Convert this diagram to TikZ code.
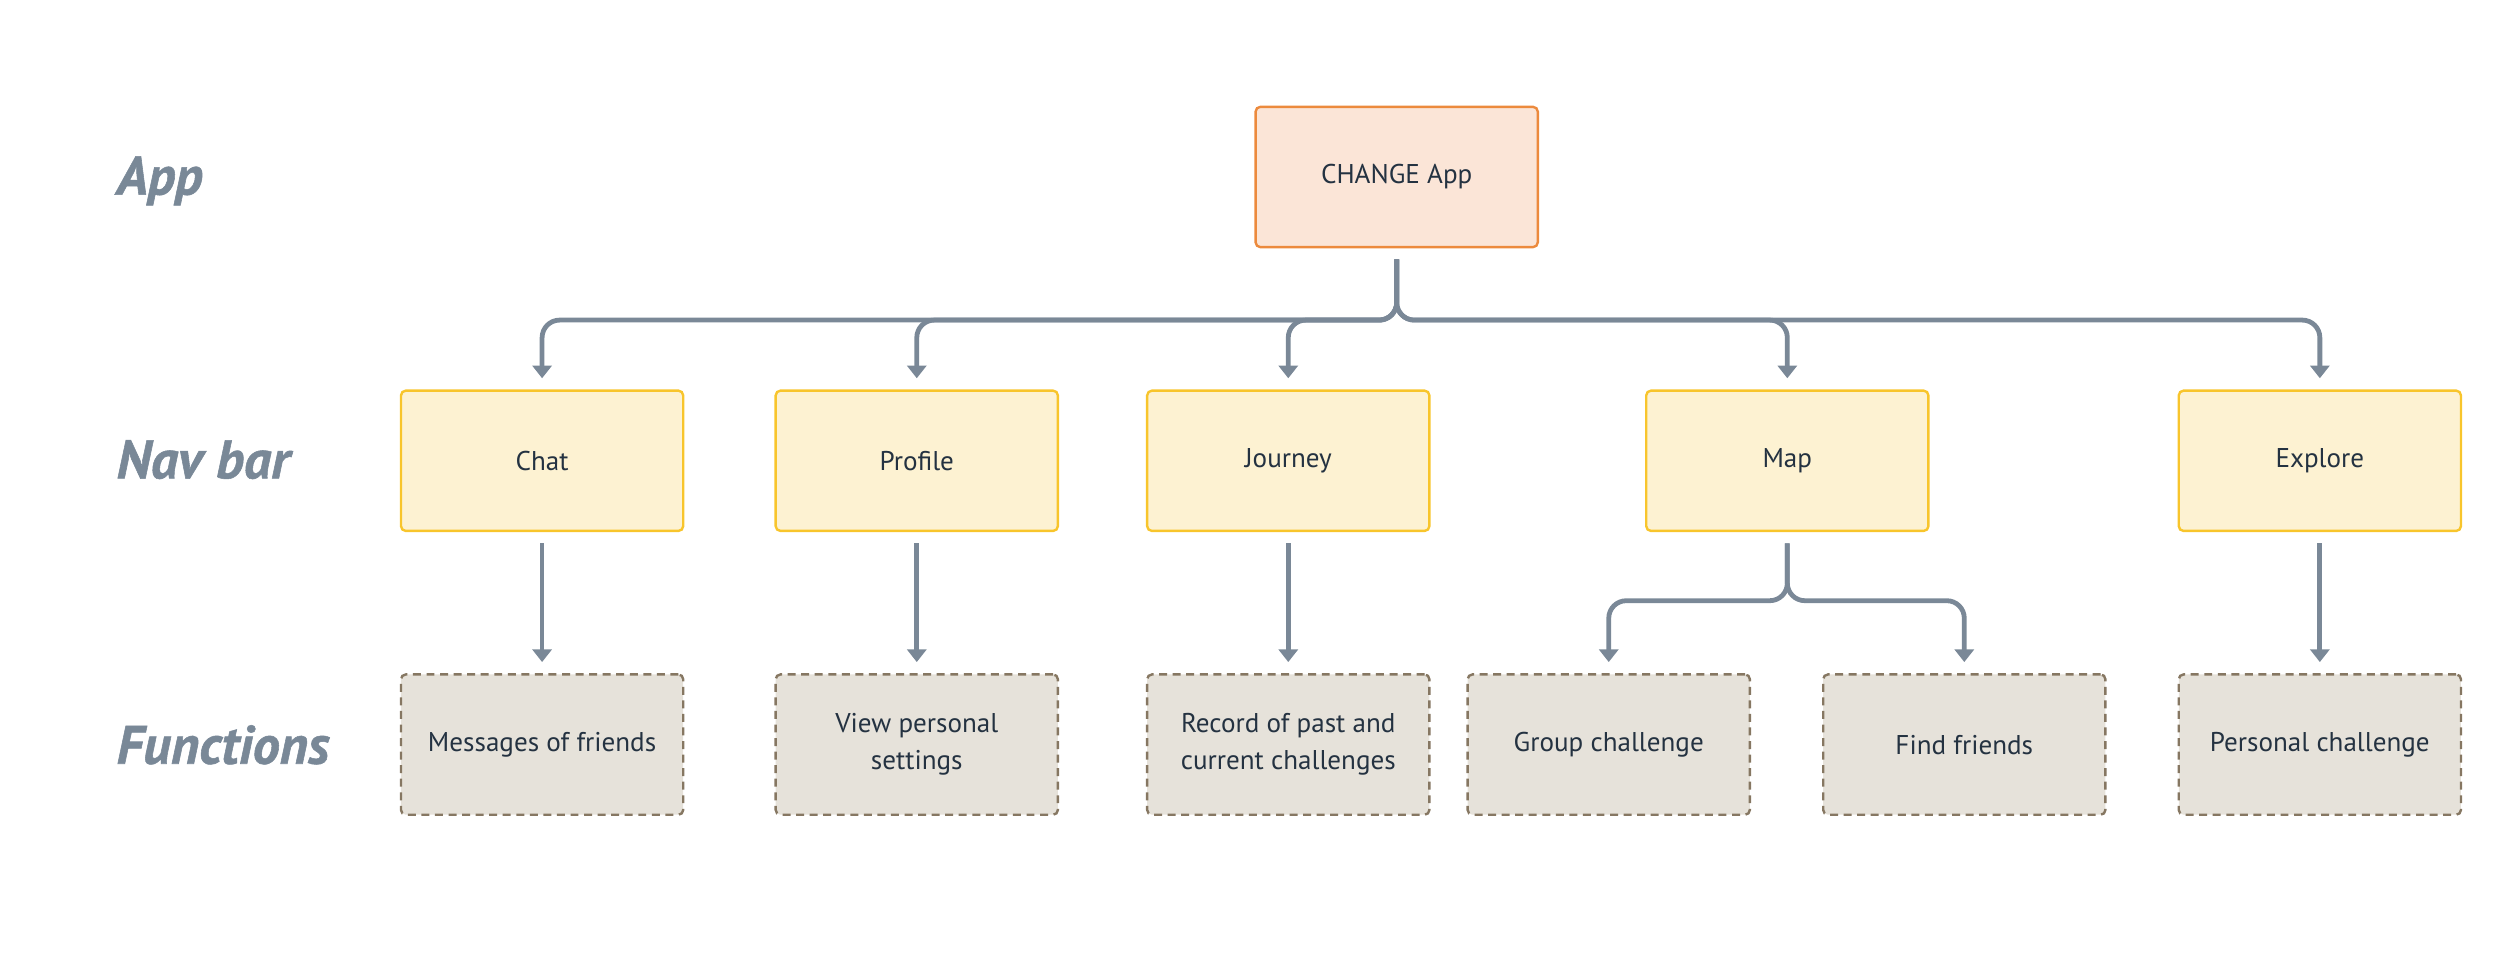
\documentclass[tikz,border=0pt]{standalone}
\usepackage{fontspec}
\setmainfont{PT Sans}
\newfontfamily\rowlabelfont[BoldItalicFeatures={FakeBold=1}]{PT Sans}
\usetikzlibrary{arrows.meta}
\definecolor{labelc}{HTML}{798897}
\definecolor{connc}{HTML}{7A8897}
\definecolor{appfill}{HTML}{FBE5D7}
\definecolor{appdraw}{HTML}{EC8A3D}
\definecolor{navfill}{HTML}{FDF2D2}
\definecolor{navdraw}{HTML}{F8C52C}
\definecolor{fnfill}{HTML}{E6E2DA}
\definecolor{fndraw}{HTML}{867762}
\definecolor{txtc}{HTML}{243241}
\begin{document}
\begin{tikzpicture}[x=1pt,y=-1pt,
 box/.style={rectangle, rounded corners=3pt, minimum width=177pt, minimum height=88pt, line width=1.5pt, font=\fontsize{17}{23}\selectfont, text=txtc, align=center, inner sep=0pt},
 appbox/.style={box, fill=appfill, draw=appdraw},
 navbox/.style={box, fill=navfill, draw=navdraw},
 fnbox/.style={box, fill=fnfill, draw=fndraw, dash pattern=on 5pt off 3.5pt},
 rowlabel/.style={anchor=base west, font=\rowlabelfont\fontsize{34}{38}\selectfont\bfseries\itshape, text=labelc, inner sep=0pt},
 conn/.style={draw=connc, line width=3pt, rounded corners=11pt, -{Triangle[width=12pt,length=8pt]}, shorten <=7pt, shorten >=7pt}
]
\useasboundingbox (0,0) rectangle (1568,603);
\node[rowlabel] (lapp) at (73,122) {App};
\node[rowlabel] (lnav) at (73,300) {Nav bar};
\node[rowlabel] (lfun) at (73,479) {Functions};

\node[appbox] (app) at (876,111) {CHANGE App};

\node[navbox] (chat) at (340,289) {Chat};
\node[navbox] (profile) at (575,289) {Profile};
\node[navbox] (journey) at (808,289) {Journey};
\node[navbox] (map) at (1121,289) {Map};
\node[navbox] (explore) at (1455,289) {Explore};

\node[fnbox] (msg) at (340,467) {Messages of friends};
\node[fnbox] (view) at (575,467) {View personal\\settings};
\node[fnbox] (record) at (808,467) {Record of past and\\current challenges};
\node[fnbox] (group) at (1009,467) {Group challenge};
\node[fnbox] (find) at (1232,467) {Find friends};
\node[fnbox] (personal) at (1455,467) {Personal challenge};

\draw[conn] (app.south) -- ++(0,45) -| (chat.north);
\draw[conn] (app.south) -- ++(0,45) -| (profile.north);
\draw[conn] (app.south) -- ++(0,45) -| (journey.north);
\draw[conn] (app.south) -- ++(0,45) -| (map.north);
\draw[conn] (app.south) -- ++(0,45) -| (explore.north);

\draw[conn] (chat.south) -- (msg.north);
\draw[conn] (profile.south) -- (view.north);
\draw[conn] (journey.south) -- (record.north);
\draw[conn] (map.south) -- ++(0,43) -| (group.north);
\draw[conn] (map.south) -- ++(0,43) -| (find.north);
\draw[conn] (explore.south) -- (personal.north);
\end{tikzpicture}
\end{document}
